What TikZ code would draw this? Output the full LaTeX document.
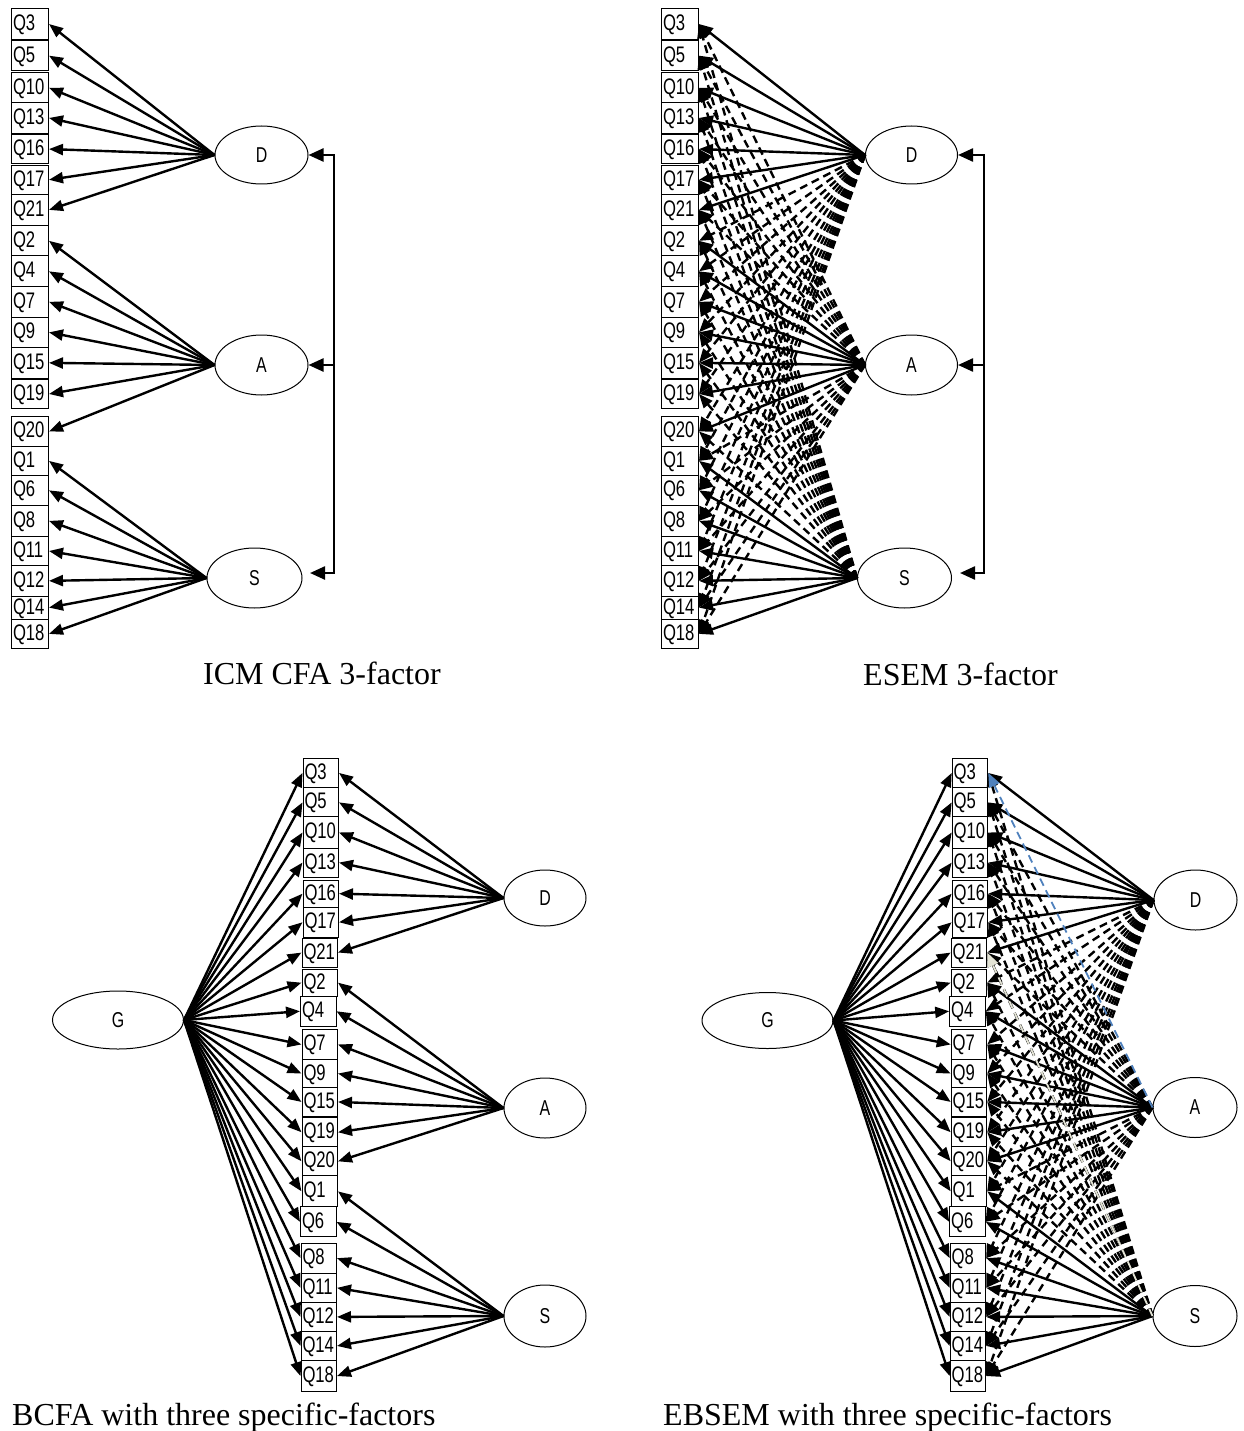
\documentclass[tikz,border=0pt]{standalone}
\usepackage{fontspec}
\setmainfont{Liberation Serif}
\newfontfamily\narrowsans[FakeStretch=0.74]{Liberation Sans}
\usetikzlibrary{arrows.meta,shapes.geometric}
\definecolor{selblue}{RGB}{79,129,189}
\definecolor{paleline}{RGB}{228,228,214}
\def\itemsD{Q3,Q5,Q10,Q13,Q16,Q17,Q21}
\def\itemsA{Q2,Q4,Q7,Q9,Q15,Q19,Q20}
\def\itemsS{Q1,Q6,Q8,Q11,Q12,Q14,Q18}
\def\itemsAll{Q3,Q5,Q10,Q13,Q16,Q17,Q21,Q2,Q4,Q7,Q9,Q15,Q19,Q20,Q1,Q6,Q8,Q11,Q12,Q14,Q18}
\def\notD{Q2,Q4,Q7,Q9,Q15,Q19,Q20,Q1,Q6,Q8,Q11,Q12,Q14,Q18}
\def\notA{Q3,Q5,Q10,Q13,Q16,Q17,Q21,Q1,Q6,Q8,Q11,Q12,Q14,Q18}
\def\notAnoQthree{Q5,Q10,Q13,Q16,Q17,Q21,Q1,Q6,Q8,Q11,Q12,Q14,Q18}
\def\notS{Q3,Q5,Q10,Q13,Q16,Q17,Q21,Q2,Q4,Q7,Q9,Q15,Q19,Q20}
\def\topdata{Q3/8.4/30.3, Q5/40/30.3, Q10/72.4/29.9, Q13/102.3/30.3, Q16/133.8/29.5, Q17/165/28.6, Q21/193.6/31.6, Q2/225.2/30.3, Q4/255.5/30.7, Q7/286.2/30.3, Q9/316.5/30.7, Q15/347.2/30.3, Q19/378.8/29.4, Q20/415.8/30.3, Q1/446.1/28.6, Q6/474.7/30.3, Q8/505/30.8, Q11/535.8/29.4, Q12/565.2/30.3, Q14/595.5/23.2, Q18/618.7/29.4}
\def\botdata{Q3/757.5/29.8/0, Q5/787.3/29.1/0, Q10/816.4/31.1/0, Q13/847.5/29.1/0, Q16/879.5/27.3/0, Q17/906.8/29.9/0, Q21/937.5/29.1/-1, Q2/968.7/26.9/-1, Q4/995.6/30.3/-2.5, Q7/1028.8/30.3/-1, Q9/1059.1/27.8/-1, Q15/1086.9/29.1/-1, Q19/1117.2/29.1/-1, Q20/1146.3/29/-1, Q1/1175.3/31.1/-1, Q6/1206.4/29.9/-2.5, Q8/1242.5/30.3/-2, Q11/1272.8/29.1/-2, Q12/1301.9/29/-2, Q14/1330.9/29.1/-2, Q18/1360/31.1/-2}
\begin{document}
\begin{tikzpicture}[x=1pt,y=-1pt,
  itembase/.style={draw, line width=1pt, anchor=north west, inner xsep=1.5pt, inner ysep=0pt,
    align=left, text height=16pt, text depth=3pt, font={\narrowsans\fontsize{22.5pt}{24pt}\selectfont}},
  itemtop/.style={itembase, text width=34pt},
  itembot/.style={itembase, text width=32.5pt},
  factor/.style={draw, ellipse, line width=1pt, inner sep=0pt, font={\narrowsans\fontsize{21.5pt}{23pt}\selectfont}},
  load/.style={line width=2.4pt, -{Triangle[length=14pt,width=11pt]}},
  cross/.style={load, dash pattern=on 8pt off 5pt},
  corr/.style={line width=2.4pt, line cap=rect},
  corrarr/.style={line width=2.4pt, -{Triangle[length=15pt,width=13pt]}},
  caption/.style={anchor=base west, inner sep=0pt, font={\fontsize{32pt}{36pt}\selectfont}}
]
\useasboundingbox (0,0) rectangle (1243,1431);

% ---------------- Panel 1: ICM CFA ----------------
\foreach \n/\t/\h in \topdata {\node[itemtop, minimum height=\h pt] (a\n) at (11,\t) {\n};}
\node[factor, minimum width=93pt, minimum height=58pt] (aD) at (261.5,155) {D};
\node[factor, minimum width=93pt, minimum height=60pt] (aA) at (261.5,365) {A};
\node[factor, minimum width=95pt, minimum height=60pt] (aS) at (254.5,578) {S};
\foreach \q in \itemsD {\draw[load] (aD.west) -- (a\q.east);}
\foreach \q in \itemsA {\draw[load] (aA.west) -- (a\q.east);}
\foreach \q in \itemsS {\draw[load] (aS.west) -- (a\q.east);}
\coordinate (abD) at (334,155);
\coordinate (abA) at (334,365);
\coordinate (abS) at (334,573);
\coordinate (atipS) at (310,573);
\draw[corr] (abD) -- (abS);
\draw[corrarr] (abD) -- (aD.east);
\draw[corrarr] (abA) -- (aA.east);
\draw[corrarr] (abS) -- (atipS);
\node[caption] (capA) at (203,684) {ICM CFA 3-factor};

% ---------------- Panel 2: ESEM ----------------
\foreach \n/\t/\h in \topdata {\node[itemtop, minimum height=\h pt] (b\n) at (661,\t) {\n};}
\node[factor, minimum width=92pt, minimum height=58pt] (bD) at (911.5,155) {D};
\node[factor, minimum width=92pt, minimum height=60pt] (bA) at (911.5,365) {A};
\node[factor, minimum width=94pt, minimum height=60pt] (bS) at (904.5,578) {S};
\foreach \q in \notD {\draw[cross] (bD.west) -- (b\q.east);}
\foreach \q in \notA {\draw[cross] (bA.west) -- (b\q.east);}
\foreach \q in \notS {\draw[cross] (bS.west) -- (b\q.east);}
\foreach \q in \itemsD {\draw[load] (bD.west) -- (b\q.east);}
\foreach \q in \itemsA {\draw[load] (bA.west) -- (b\q.east);}
\foreach \q in \itemsS {\draw[load] (bS.west) -- (b\q.east);}
\coordinate (bbD) at (984,155);
\coordinate (bbA) at (984,365);
\coordinate (bbS) at (984,573);
\coordinate (btipS) at (960,573);
\draw[corr] (bbD) -- (bbS);
\draw[corrarr] (bbD) -- (bD.east);
\draw[corrarr] (bbA) -- (bA.east);
\draw[corrarr] (bbS) -- (btipS);
\node[caption] (capB) at (863,685) {ESEM 3-factor};

% ---------------- Panel 3: BCFA ----------------
\foreach \n/\t/\h/\dx in \botdata {
  \pgfmathsetmacro\xx{302.5+\dx}
  \node[itembot, minimum height=\h pt] (c\n) at (\xx,\t) {\n};
}
\node[factor, minimum width=131pt, minimum height=58pt] (cG) at (118,1020) {G};
\node[factor, minimum width=82pt, minimum height=56pt] (cD) at (545,898) {D};
\node[factor, minimum width=82pt, minimum height=60pt] (cA) at (545,1108) {A};
\node[factor, minimum width=82pt, minimum height=62pt] (cS) at (545,1316) {S};
\foreach \q in \itemsAll {\draw[load] (cG.east) -- (c\q.west);}
\foreach \q in \itemsD {\draw[load] (cD.west) -- (c\q.east);}
\foreach \q in \itemsA {\draw[load] (cA.west) -- (c\q.east);}
\foreach \q in \itemsS {\draw[load] (cS.west) -- (c\q.east);}
\node[caption] (capC) at (12,1425) {BCFA with three specific-factors};

% ---------------- Panel 4: EBSEM ----------------
\foreach \n/\t/\h/\dx in \botdata {
  \pgfmathsetmacro\xx{951.7+\dx}
  \node[itembot, minimum height=\h pt] (d\n) at (\xx,\t) {\n};
}
\node[factor, minimum width=131pt, minimum height=56pt] (dG) at (767.5,1020.5) {G};
\node[factor, minimum width=83pt, minimum height=60pt] (dD) at (1195.5,900) {D};
\node[factor, minimum width=84pt, minimum height=60pt] (dA) at (1195,1107.5) {A};
\node[factor, minimum width=84pt, minimum height=61pt] (dS) at (1195,1316) {S};
\foreach \q in \itemsAll {\draw[load] (dG.east) -- (d\q.west);}
\foreach \q in \notD {\draw[cross] (dD.west) -- (d\q.east);}
\foreach \q in \notAnoQthree {\draw[cross] (dA.west) -- (d\q.east);}
\foreach \q in \notS {\draw[cross] (dS.west) -- (d\q.east);}
\foreach \q in \itemsD {\draw[load] (dD.west) -- (d\q.east);}
\foreach \q in \itemsA {\draw[load] (dA.west) -- (d\q.east);}
\foreach \q in \itemsS {\draw[load] (dS.west) -- (d\q.east);}
\draw[cross, paleline, line width=1.8pt] (dS.west) -- (dQ21.east);
\draw[cross, selblue, line width=1.8pt] (dA.west) -- (dQ3.east);
\node[caption] (capD) at (663,1425) {EBSEM with three specific-factors};
\end{tikzpicture}
\end{document}
